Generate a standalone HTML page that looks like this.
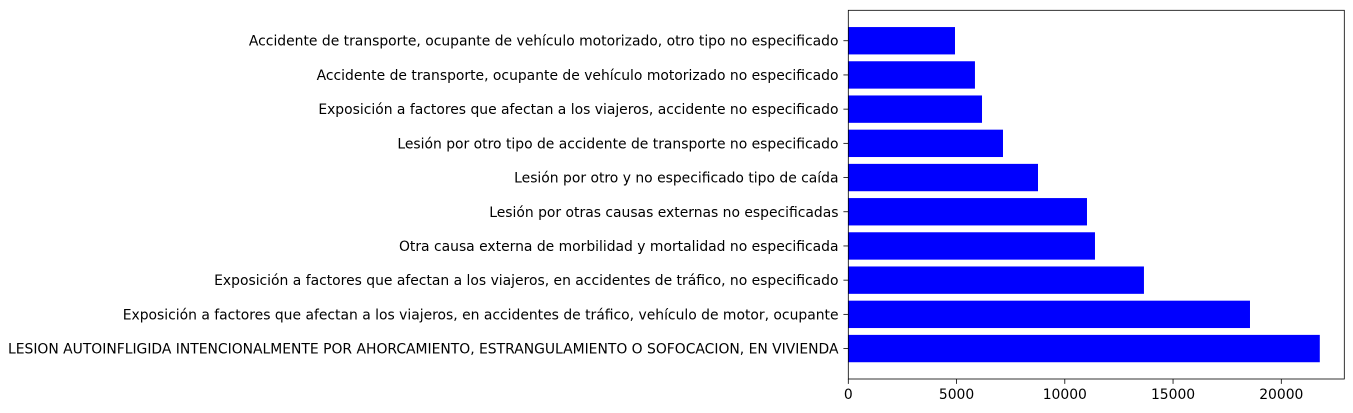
<!DOCTYPE html>
<html><head><meta charset="utf-8"><style>body{margin:0;background:#fff}svg{display:block}text{font-family:"DejaVu Sans","Liberation Sans",sans-serif;font-size:13.9px;fill:#000}</style></head>
<body>
<svg id="chart" width="1353" height="413" xmlns="http://www.w3.org/2000/svg"></svg>
<script>
const categories = [
"LESION AUTOINFLIGIDA INTENCIONALMENTE POR AHORCAMIENTO, ESTRANGULAMIENTO O SOFOCACION, EN VIVIENDA",
"Exposición a factores que afectan a los viajeros, en accidentes de tráfico, vehículo de motor, ocupante",
"Exposición a factores que afectan a los viajeros, en accidentes de tráfico, no especificado",
"Otra causa externa de morbilidad y mortalidad no especificada",
"Lesión por otras causas externas no especificadas",
"Lesión por otro y no especificado tipo de caída",
"Lesión por otro tipo de accidente de transporte no especificado",
"Exposición a factores que afectan a los viajeros, accidente no especificado",
"Accidente de transporte, ocupante de vehículo motorizado no especificado",
"Accidente de transporte, ocupante de vehículo motorizado, otro tipo no especificado"];
const values = [21778, 18554, 13656, 11394, 11025, 8762, 7145, 6176, 5850, 4928];
const xTicks = [0, 5000, 10000, 15000, 20000];
const NS = "http://www.w3.org/2000/svg";
const svg = document.getElementById('chart');
const L = 848.3, R = 1344.3, T = 10.3, B = 379;
const xMax = 22910;
const yMin = -0.89, yMax = 9.89;
const xs = v => L + v / xMax * (R - L);
const ys = i => B - (i - yMin) / (yMax - yMin) * (B - T);
function mk(tag, attrs) { const e = document.createElementNS(NS, tag); for (const k in attrs) e.setAttribute(k, attrs[k]); svg.appendChild(e); return e; }
values.forEach((v, i) => {
  const y0 = ys(i + 0.4), y1 = ys(i - 0.4);
  const r = mk('rect', { x: xs(0), y: y0, width: xs(v) - xs(0), height: y1 - y0, fill: '#0000ff' });
  
  
  const t = mk('line', { x1: L - 4.9, x2: L, y1: ys(i), y2: ys(i), stroke: '#000', 'stroke-width': 0.8 });
  
  
  const tx = mk('text', { x: L - 9.8, y: ys(i) + 5, 'text-anchor': 'end' });
  tx.textContent = categories[i];
  
  
});
xTicks.forEach(v => {
  const t = mk('line', { x1: xs(v), x2: xs(v), y1: B, y2: B + 4.9, stroke: '#000', 'stroke-width': 0.8 });
  
  
  const tx = mk('text', { x: xs(v), y: B + 20, 'text-anchor': 'middle' });
  tx.textContent = v;
  
  
});
const f = mk('rect', { x: L, y: T, width: R - L, height: B - T, fill: 'none', stroke: '#000', 'stroke-width': 0.8 });


</script>
</body></html>
